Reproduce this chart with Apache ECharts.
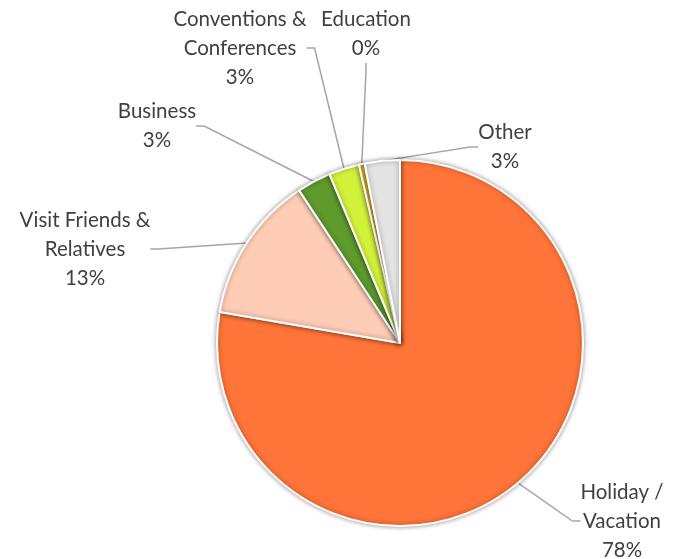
<!DOCTYPE html>
<html><head><meta charset="utf-8">
<script src="https://cdn.jsdelivr.net/npm/echarts@6/dist/echarts.min.js"></script>
<style>html,body{margin:0;padding:0;background:#fff}#c{width:683px;height:559px}</style>
</head><body><div id="c"></div>
<script>
const categories = ['Holiday / Vacation','Visit Friends & Relatives','Business','Conventions & Conferences','Education','Other'];
const labelText = ['Holiday /\nVacation','Visit Friends &\nRelatives','Business','Conventions &\nConferences','Education','Other'];
const values = [77.7, 13.0, 3.0, 2.7, 0.5, 3.1];
const pctLabels = ['78%','13%','3%','3%','0%','3%'];
const colors = ['#FF7438','#FFCDB6','#5E9A2C','#D2F23A','#F2B81E','#E4E4E4'];
const labelPos = [[622,521],[85,249],[157,126],[240,48],[366,34],[505,147]];

const chart = echarts.init(document.getElementById('c'));
chart.setOption({
  animation:false,
  series:[{
    type:'pie',
    center:[400,343],
    radius:183,
    startAngle:90,
    clockwise:true,
    data: categories.map((c,i)=>({name:c,value:values[i],itemStyle:{color:colors[i]}})),
    itemStyle:{borderColor:'#fff',borderWidth:2,shadowBlur:5,shadowColor:'rgba(0,0,0,0.4)'},
    label:{
      show:true,
      position:'outside',
      formatter:(p)=>labelText[p.dataIndex]+'\n'+pctLabels[p.dataIndex],
      fontFamily:'Lato',
      fontSize:20.5,
      lineHeight:29,
      color:'#404040',
      align:'center'
    },
    labelLine:{show:true,lineStyle:{color:'#A6A6A6',width:1.5},length:15,length2:8},
    labelLayout:(p)=>({x:labelPos[p.dataIndex][0],y:labelPos[p.dataIndex][1],align:'center',verticalAlign:'middle',moveOverlap:null})
  }]
});
</script></body></html>
